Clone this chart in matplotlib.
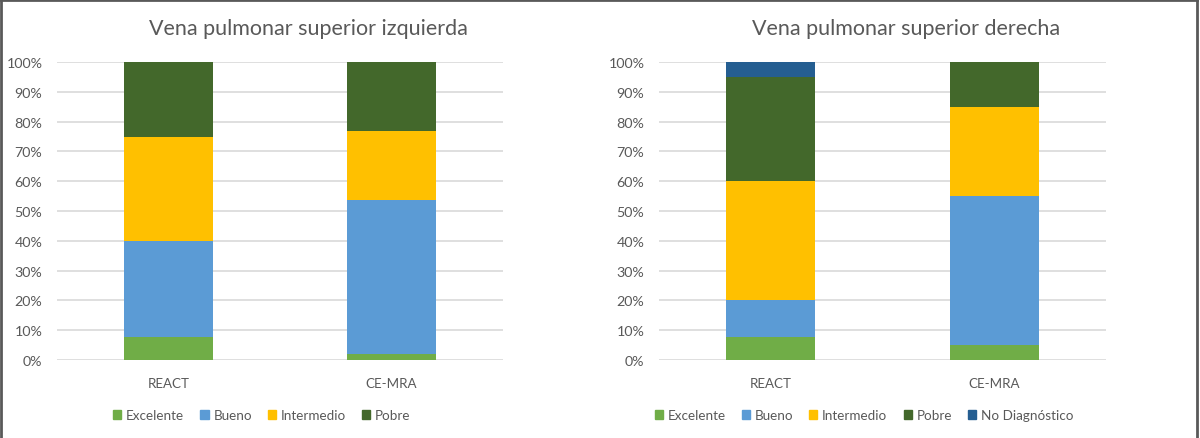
import matplotlib.pyplot as plt
from matplotlib.patches import Patch
from matplotlib.lines import Line2D
from matplotlib.ticker import PercentFormatter

plt.rcParams['font.family'] = ['Lato', 'DejaVu Sans']

categorias = ['REACT', 'CE-MRA']
niveles = ['Excelente', 'Bueno', 'Intermedio', 'Pobre', 'No Diagnóstico']
colores = ['#70AD47', '#5B9BD5', '#FFC000', '#43682B', '#255E91']

# porcentajes por nivel (REACT, CE-MRA)
izq_excelente = [7.7, 2.0]
izq_bueno = [32.3, 51.8]
izq_intermedio = [35.0, 23.1]
izq_pobre = [25.0, 23.1]

der_excelente = [7.7, 5.0]
der_bueno = [12.3, 50.0]
der_intermedio = [40.0, 30.0]
der_pobre = [35.0, 15.0]
der_nodiag = [5.0, 0.0]

texto = '#595959'

fig = plt.figure(figsize=(12, 4.39), dpi=100)


def panel(rect, series, titulo, tx, legx):
    ax = fig.add_axes(rect)
    base = [0, 0]
    for vals, col in zip(series, colores):
        ax.bar(range(len(categorias)), vals, bottom=base, width=0.4, color=col, zorder=3)
        base = [b + v for b, v in zip(base, vals)]
    ax.set_xlim(-0.5, 1.5)
    ax.set_ylim(0, 100)
    ax.set_yticks(range(0, 101, 10))
    ax.yaxis.set_major_formatter(PercentFormatter(decimals=0))
    ax.set_xticks(range(len(categorias)))
    ax.set_xticklabels(categorias)
    ax.grid(axis='y', color='#d9d9d9', linewidth=1.2, zorder=0)
    for s in ax.spines.values():
        s.set_visible(False)
    ax.tick_params(length=0, colors=texto)
    ax.tick_params(axis='x', pad=12, labelsize=9.6)
    ax.tick_params(axis='y', pad=10.5, labelsize=10.3)
    fig.text(tx, 1 - 29 / 439, titulo, ha='center', va='center', fontsize=15.5, color=texto)
    handles = [Patch(color=c, label=n) for c, n in zip(colores[:len(series)], niveles[:len(series)])]
    fig.legend(handles=handles, loc='center', bbox_to_anchor=(legx, 1 - 416 / 439), ncol=len(series),
               frameon=False, fontsize=9.7, handlelength=0.6, handleheight=0.6,
               handletextpad=0.35, columnspacing=1.2, labelcolor=texto)
    return ax


panel([57 / 1200, 1 - 361 / 439, 446 / 1200, 298 / 439],
      [izq_excelente, izq_bueno, izq_intermedio, izq_pobre],
      'Vena pulmonar superior izquierda', 308 / 1200, 262 / 1200)
panel([659 / 1200, 1 - 361 / 439, 447 / 1200, 298 / 439],
      [der_excelente, der_bueno, der_intermedio, der_pobre, der_nodiag],
      'Vena pulmonar superior derecha', 906 / 1200, 864 / 1200)

# marco gris (arriba, izquierda, derecha)
borde = dict(color='#595959', linewidth=2, transform=fig.transFigure)
fig.add_artist(Line2D([0.001, 0.001], [0, 0.998], **borde))
fig.add_artist(Line2D([0.001, 0.9975], [0.998, 0.998], **borde))
fig.add_artist(Line2D([0.9975, 0.9975], [0, 0.998], **borde))

fig.savefig('out.png', dpi=100)
